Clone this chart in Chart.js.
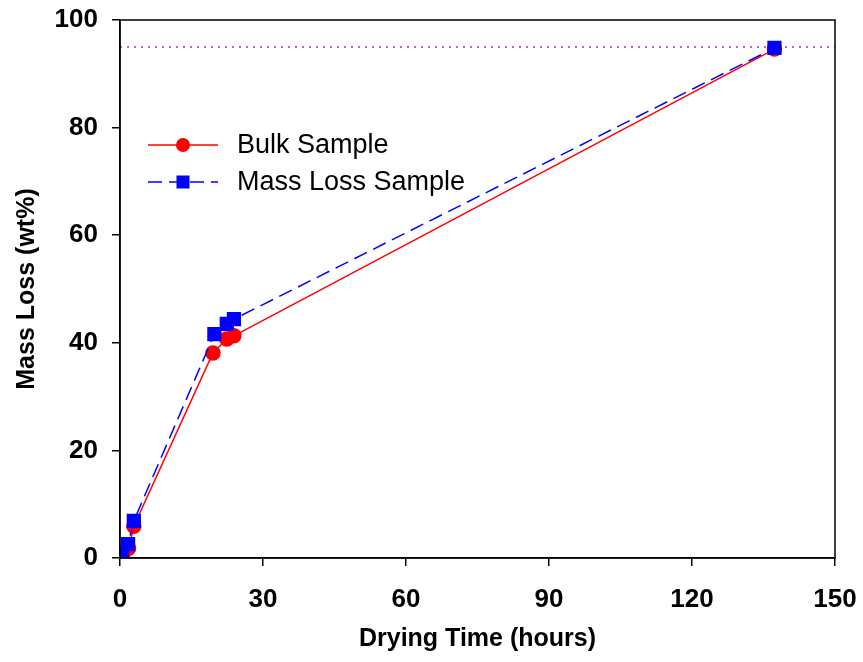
<!DOCTYPE html>
<html>
<head>
<meta charset="utf-8">
<script src="https://cdn.jsdelivr.net/npm/chart.js@4/dist/chart.umd.min.js"></script>
<style>
  body { margin: 0; background: #fff; }
  canvas { display: block; }
</style>
</head>
<body>
<canvas id="massChart" width="863" height="662"></canvas>
<script>
// values
const bulkHours = [0.6, 1.8, 2.9, 19.5, 22.4, 23.9, 137.3];
const bulkLoss  = [0.7, 1.8, 5.9, 38.1, 40.7, 41.3, 94.6];
const massHours = [0.4, 1.7, 2.9, 19.8, 22.4, 23.9, 137.3];
const massLoss  = [0.6, 2.6, 6.9, 41.6, 43.5, 44.4, 94.8];
const targetLine = 95;
const xTicks = [0, 30, 60, 90, 120, 150];
const yTicks = [0, 20, 40, 60, 80, 100];

const FONT = "'Liberation Sans', Arial, sans-serif";

const toPoints = (xs, ys) => xs.map((x, i) => ({ x, y: ys[i] }));

// frame round the plot + dotted reference line + legend inside the plot
const framePlugin = {
  id: 'frame',
  beforeDatasetsDraw(chart) {
    const { ctx, chartArea: a, scales } = chart;
    const y = scales.y.getPixelForValue(targetLine);
    ctx.save();
    ctx.strokeStyle = '#c020c0';
    ctx.lineWidth = 1.5;
    ctx.setLineDash([2, 5]);
    ctx.beginPath();
    ctx.moveTo(a.left, y);
    ctx.lineTo(a.right, y);
    ctx.stroke();
    ctx.restore();
  },
  afterDraw(chart) {
    const { ctx, chartArea: a } = chart;
    ctx.save();
    ctx.strokeStyle = '#000';
    ctx.lineWidth = 1.5;
    ctx.strokeRect(a.left, a.top, a.right - a.left, a.bottom - a.top);

    const items = [
      { label: 'Bulk Sample', color: '#ff0000', dash: [], shape: 'circle', y: a.top + 125 },
      { label: 'Mass Loss Sample', color: '#0000ff', dash: [14, 7], shape: 'square', y: a.top + 162 }
    ];
    items.forEach(it => {
      ctx.strokeStyle = it.color;
      ctx.fillStyle = it.color;
      ctx.lineWidth = 1.5;
      ctx.setLineDash(it.dash);
      ctx.beginPath();
      ctx.moveTo(a.left + 28, it.y);
      ctx.lineTo(a.left + 98, it.y);
      ctx.stroke();
      ctx.setLineDash([]);
      const cx = a.left + 63;
      if (it.shape === 'circle') {
        ctx.beginPath();
        ctx.arc(cx, it.y, 7, 0, Math.PI * 2);
        ctx.fill();
      } else {
        ctx.fillRect(cx - 6.5, it.y - 6.5, 13, 13);
      }
      ctx.fillStyle = '#000';
      ctx.font = `27px ${FONT}`;
      ctx.textBaseline = 'middle';
      ctx.fillText(it.label, a.left + 117, it.y + 1);
    });
    ctx.restore();
  }
};

new Chart(document.getElementById('massChart'), {
  type: 'scatter',
  data: {
    datasets: [
      {
        label: 'Bulk Sample',
        data: toPoints(bulkHours, bulkLoss),
        showLine: true,
        borderColor: '#ff0000',
        backgroundColor: '#ff0000',
        borderWidth: 1.5,
        pointStyle: 'circle',
        pointRadius: 7,
        pointHoverRadius: 7,
        order: 1
      },
      {
        label: 'Mass Loss Sample',
        data: toPoints(massHours, massLoss),
        showLine: true,
        borderColor: '#0000ff',
        backgroundColor: '#0000ff',
        borderWidth: 1.5,
        borderDash: [14, 7],
        pointStyle: 'rect',
        pointRadius: 9,
        pointHoverRadius: 9,
        order: 0
      }
    ]
  },
  options: {
    responsive: false,
    animation: false,
    layout: { padding: { left: 0, right: 28, top: 20, bottom: 0 } },
    plugins: {
      legend: { display: false },
      tooltip: { enabled: false }
    },
    scales: {
      x: {
        type: 'linear',
        min: 0,
        max: 150,
        afterBuildTicks: s => { s.ticks = xTicks.map(v => ({ value: v })); },
        afterFit: s => { s.height = 104; s.paddingLeft = 0; s.paddingRight = 0; },
        border: { display: true, color: '#000', width: 1.5 },
        grid: { drawOnChartArea: false, drawTicks: true, tickLength: 8, color: '#000', lineWidth: 1.5 },
        ticks: { color: '#000', padding: 18, maxRotation: 0, font: { family: FONT, size: 26, weight: 'bold' } },
        title: {
          display: true,
          text: 'Drying Time (hours)',
          color: '#000',
          padding: { top: 0, bottom: 8 },
          font: { family: FONT, size: 25, weight: 'bold' }
        }
      },
      y: {
        type: 'linear',
        min: 0,
        max: 100,
        afterBuildTicks: s => { s.ticks = yTicks.map(v => ({ value: v })); },
        afterFit: s => { s.width = 120; s.paddingTop = 0; s.paddingBottom = 0; },
        border: { display: true, color: '#000', width: 1.5 },
        grid: { drawOnChartArea: false, drawTicks: true, tickLength: 8, color: '#000', lineWidth: 1.5 },
        ticks: { color: '#000', padding: 14, font: { family: FONT, size: 26, weight: 'bold' } },
        title: {
          display: true,
          text: 'Mass Loss (wt%)',
          color: '#000',
          padding: { top: 12, bottom: 0 },
          font: { family: FONT, size: 25, weight: 'bold' }
        }
      }
    }
  },
  plugins: [framePlugin]
});
</script>
</body>
</html>
